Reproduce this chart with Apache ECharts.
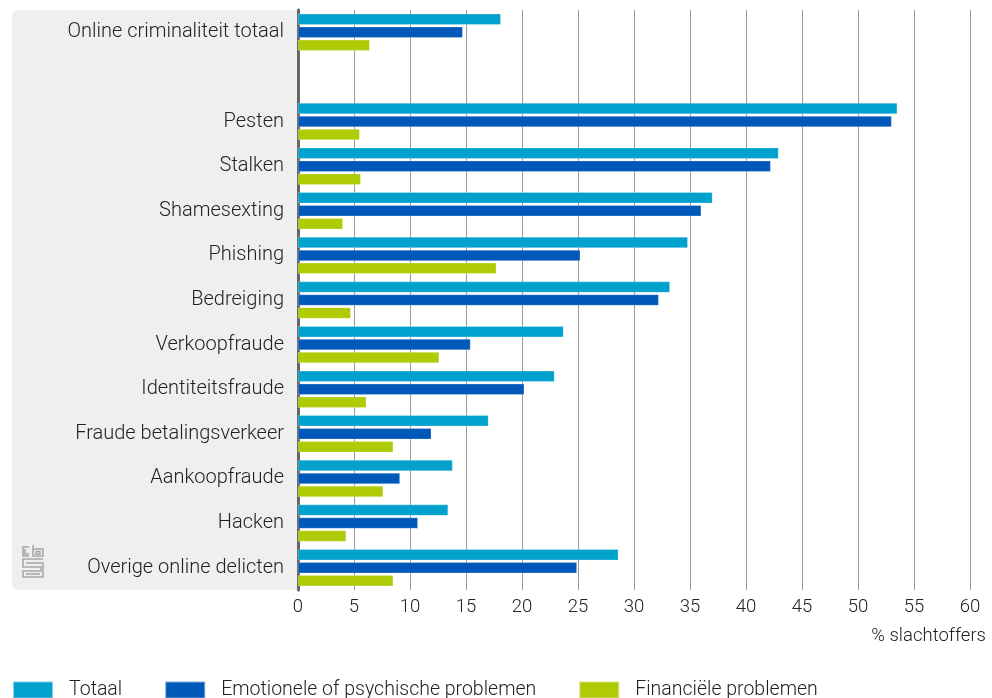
<!DOCTYPE html>
<html><head><meta charset="utf-8">
<script src="https://cdn.jsdelivr.net/npm/echarts@6/dist/echarts.min.js"></script>
<style>html,body{margin:0;padding:0;background:#fff}#c{width:992px;height:698px}</style>
</head><body><div id="c"></div>
<script>
const categories = ['Online criminaliteit totaal', '', 'Pesten', 'Stalken', 'Shamesexting', 'Phishing', 'Bedreiging', 'Verkoopfraude', 'Identiteitsfraude', 'Fraude betalingsverkeer', 'Aankoopfraude', 'Hacken', 'Overige online delicten'];
const seriesNames = ['Totaal', 'Emotionele of psychische problemen', 'Financiële problemen'];
const totaal = [18.1, null, 53.5, 42.9, 37.0, 34.8, 33.2, 23.7, 22.9, 17.0, 13.8, 13.4, 28.6];
const emotioneel = [14.7, null, 53.0, 42.2, 36.0, 25.2, 32.2, 15.4, 20.2, 11.9, 9.1, 10.7, 24.9];
const financieel = [6.4, null, 5.5, 5.6, 4.0, 17.7, 4.7, 12.6, 6.1, 8.5, 7.6, 4.3, 8.5];
const xTicks = [0, 5, 10, 15, 20, 25, 30, 35, 40, 45, 50, 55, 60];
const axisName = '% slachtoffers';

const FONT = 'Roboto';
const FW = 300;
const colors = ['#00A1CD', '#0058B8', '#AFCB05'];
const chart = echarts.init(document.getElementById('c'), null, {renderer: 'canvas'});

function bar(name, data, color) {
  return {
    name, type: 'bar', data, barWidth: 11, barGap: '18%', barCategoryGap: '17%',
    itemStyle: {color, borderColor: 'rgba(255,255,255,0.5)', borderWidth: 0.5},
    emphasis: {disabled: true}, animation: false
  };
}

chart.setOption({
  animation: false,
  textStyle: {fontFamily: FONT},
  grid: {left: 298, right: 22, top: 10, bottom: 108, containLabel: false},
  graphic: [
    {type: 'rect', z: -10, shape: {x: 12, y: 10, width: 285, height: 580, r: [6, 0, 0, 6]}, style: {fill: '#efefef'}},
    {type: 'group', x: 22, y: 545, z: 5, children: [
      {type: 'polyline', shape: {points: [[7,2],[1,2],[1,11],[7,11]]}, style: {stroke: '#a8a8a8', lineWidth: 1.6, fill: null}},
      {type: 'polyline', shape: {points: [[3,4],[3,9],[7,9]]}, style: {stroke: '#a8a8a8', lineWidth: 1.6, fill: null}},
      {type: 'polyline', shape: {points: [[11,0],[11,11],[21,11],[21,4],[11,4]]}, style: {stroke: '#a8a8a8', lineWidth: 1.6, fill: null}},
      {type: 'rect', shape: {x: 14, y: 6.5, width: 4, height: 2.5}, style: {stroke: '#a8a8a8', lineWidth: 1.4, fill: null}},
      {type: 'polyline', shape: {points: [[21,14],[1,14],[1,22],[19,22],[19,26],[1,26],[1,32],[21,32],[21,18],[4,18]]}, style: {stroke: '#a8a8a8', lineWidth: 1.6, fill: null}},
      {type: 'polyline', shape: {points: [[4,29],[18,29]]}, style: {stroke: '#a8a8a8', lineWidth: 1.6, fill: null}}
    ]},
    {type: 'text', right: 6, top: 627, style: {text: axisName, font: FW + ' 18.5px ' + FONT, fill: '#222', textAlign: 'right'}}
  ],
  legend: {
    left: 7, top: 675, itemWidth: 40, itemHeight: 17, itemGap: 42,
    icon: 'rect', selectedMode: false,
    textStyle: {fontSize: 19.5, fontWeight: FW, color: '#222', fontFamily: FONT, padding: [0, 0, 0, 11]},
    data: seriesNames
  },
  xAxis: {
    type: 'value', min: 0, max: 60, interval: 5,
    axisLine: {show: false}, axisTick: {show: false},
    splitLine: {show: true, lineStyle: {color: '#9a9a9a', width: 1}},
    axisLabel: {color: '#222', fontSize: 18.5, fontWeight: FW, margin: 8, fontFamily: FONT,
      formatter: v => xTicks.includes(v) ? String(v) : ''}
  },
  yAxis: {
    type: 'category', data: categories, inverse: true,
    axisLine: {show: true, lineStyle: {color: '#666', width: 3}},
    axisTick: {show: false},
    axisLabel: {color: '#222', fontSize: 20, fontWeight: FW, margin: 14, fontFamily: FONT}
  },
  series: [
    bar(seriesNames[0], totaal, colors[0]),
    bar(seriesNames[1], emotioneel, colors[1]),
    bar(seriesNames[2], financieel, colors[2])
  ]
});
</script></body></html>
